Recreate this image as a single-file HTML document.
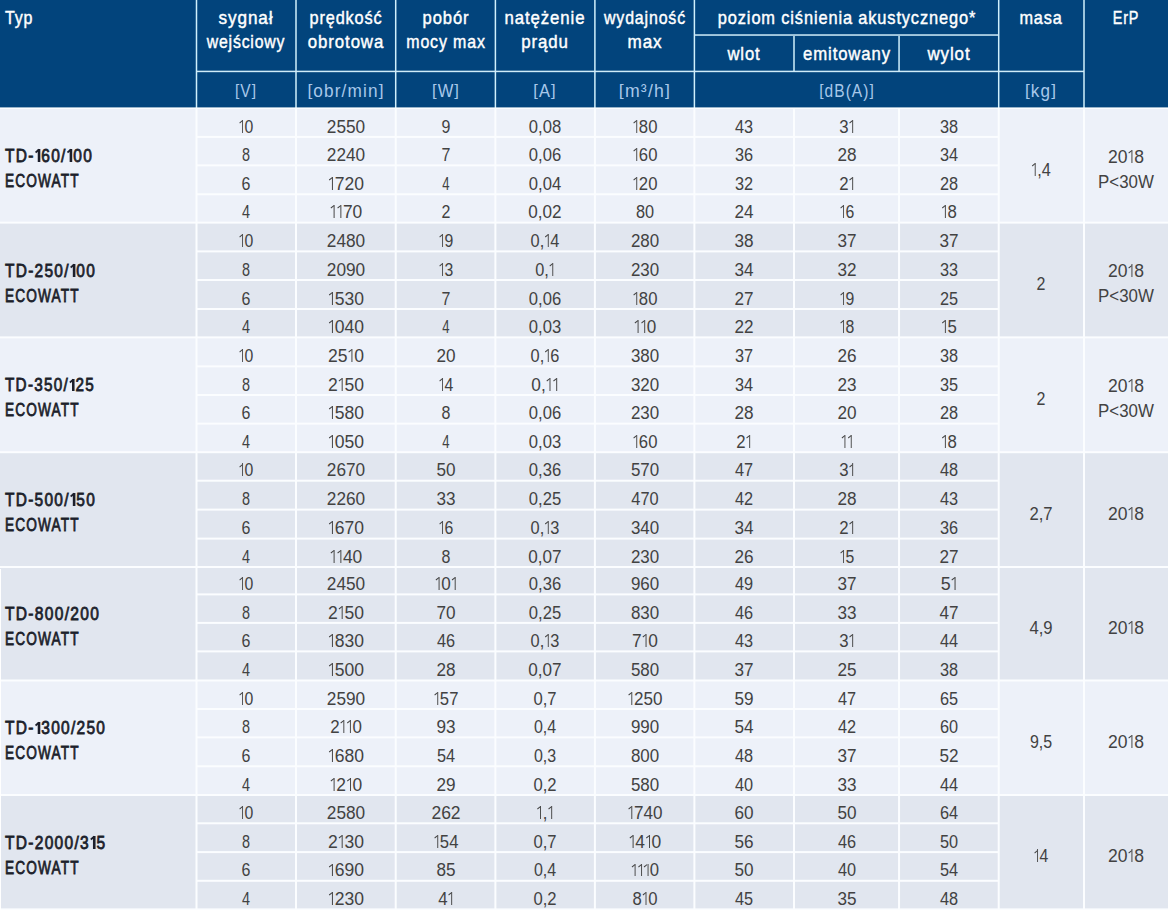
<!DOCTYPE html><html><head><meta charset="utf-8"><style>
html,body{margin:0;padding:0;width:1168px;height:910px;overflow:hidden;background:#fff;}
body{position:relative;font-family:"Liberation Sans",sans-serif;}
.r{position:absolute;}
.t{position:absolute;white-space:nowrap;line-height:1;}
.o{display:inline-block;position:relative;width:6.8px;height:13px;}
.o::before{content:"";position:absolute;right:1.4px;bottom:0;width:1.5px;height:12.9px;background:currentColor}
.o::after{content:"";position:absolute;right:2.6px;top:0.2px;width:4.4px;height:1.45px;background:currentColor;transform:rotate(-36deg);transform-origin:100% 0}
.b .o{width:7.6px}
.br{display:inline-block;transform:scaleY(0.89);transform-origin:50% 2.7px}
.b .o::before{width:2.4px;right:1.6px}
.b .o::after{right:3.6px;width:4.6px;height:2.2px}
</style></head><body>
<div class="r" style="left:0px;top:0.00px;width:1168px;height:108.00px;background:#02447c"></div>
<div class="r" style="left:0px;top:108.00px;width:1168px;height:802.00px;background:#edf1f9"></div>
<div class="r" style="left:0px;top:108.00px;width:1168px;height:802.00px;background:#edf1f9"></div>
<div class="r" style="left:0px;top:223.00px;width:1168px;height:687.00px;background:#e1e6ef"></div>
<div class="r" style="left:0px;top:337.00px;width:1168px;height:573.00px;background:#edf1f9"></div>
<div class="r" style="left:0px;top:452.00px;width:1168px;height:458.00px;background:#e1e6ef"></div>
<div class="r" style="left:0px;top:567.00px;width:1168px;height:343.00px;background:#e1e6ef"></div>
<div class="r" style="left:0px;top:680.00px;width:1168px;height:230.00px;background:#edf1f9"></div>
<div class="r" style="left:0px;top:795.00px;width:1168px;height:115.00px;background:#e1e6ef"></div>
<div class="r" style="left:195px;top:0.00px;width:1px;height:108.00px;background:rgba(208,240,252,0.250)"></div>
<div class="r" style="left:196px;top:0.00px;width:1px;height:108.00px;background:rgba(208,240,252,1.000)"></div>
<div class="r" style="left:197px;top:0.00px;width:1px;height:108.00px;background:rgba(208,240,252,0.250)"></div>
<div class="r" style="left:295px;top:0.00px;width:1px;height:108.00px;background:rgba(208,240,252,0.750)"></div>
<div class="r" style="left:296px;top:0.00px;width:1px;height:108.00px;background:rgba(208,240,252,0.750)"></div>
<div class="r" style="left:394px;top:0.00px;width:1px;height:108.00px;background:rgba(208,240,252,0.050)"></div>
<div class="r" style="left:395px;top:0.00px;width:1px;height:108.00px;background:rgba(208,240,252,1.000)"></div>
<div class="r" style="left:396px;top:0.00px;width:1px;height:108.00px;background:rgba(208,240,252,0.450)"></div>
<div class="r" style="left:494px;top:0.00px;width:1px;height:108.00px;background:rgba(208,240,252,0.350)"></div>
<div class="r" style="left:495px;top:0.00px;width:1px;height:108.00px;background:rgba(208,240,252,1.000)"></div>
<div class="r" style="left:496px;top:0.00px;width:1px;height:108.00px;background:rgba(208,240,252,0.150)"></div>
<div class="r" style="left:594px;top:0.00px;width:1px;height:108.00px;background:rgba(208,240,252,0.850)"></div>
<div class="r" style="left:595px;top:0.00px;width:1px;height:108.00px;background:rgba(208,240,252,0.650)"></div>
<div class="r" style="left:693px;top:0.00px;width:1px;height:108.00px;background:rgba(208,240,252,0.350)"></div>
<div class="r" style="left:694px;top:0.00px;width:1px;height:108.00px;background:rgba(208,240,252,1.000)"></div>
<div class="r" style="left:695px;top:0.00px;width:1px;height:108.00px;background:rgba(208,240,252,0.150)"></div>
<div class="r" style="left:997px;top:0.00px;width:1px;height:108.00px;background:rgba(208,240,252,0.050)"></div>
<div class="r" style="left:998px;top:0.00px;width:1px;height:108.00px;background:rgba(208,240,252,1.000)"></div>
<div class="r" style="left:999px;top:0.00px;width:1px;height:108.00px;background:rgba(208,240,252,0.450)"></div>
<div class="r" style="left:1083px;top:0.00px;width:1px;height:108.00px;background:rgba(208,240,252,0.750)"></div>
<div class="r" style="left:1084px;top:0.00px;width:1px;height:108.00px;background:rgba(208,240,252,0.750)"></div>
<div class="r" style="left:793px;top:36.00px;width:1px;height:35.00px;background:rgba(208,240,252,0.750)"></div>
<div class="r" style="left:794px;top:36.00px;width:1px;height:35.00px;background:rgba(208,240,252,0.750)"></div>
<div class="r" style="left:898px;top:36.00px;width:1px;height:35.00px;background:rgba(208,240,252,0.700)"></div>
<div class="r" style="left:899px;top:36.00px;width:1px;height:35.00px;background:rgba(208,240,252,0.800)"></div>
<div class="r" style="left:694px;top:34.00px;width:305px;height:1.00px;background:rgba(208,236,248,0.720)"></div>
<div class="r" style="left:694px;top:35.00px;width:305px;height:1.00px;background:rgba(208,236,248,0.780)"></div>
<div class="r" style="left:197px;top:70.00px;width:887px;height:1.00px;background:rgba(208,236,248,0.320)"></div>
<div class="r" style="left:197px;top:71.00px;width:887px;height:1.00px;background:rgba(208,236,248,1.000)"></div>
<div class="r" style="left:197px;top:72.00px;width:887px;height:1.00px;background:rgba(208,236,248,0.180)"></div>
<div class="r" style="left:195px;top:109.00px;width:1px;height:801.00px;background:rgba(251,253,255,0.500)"></div>
<div class="r" style="left:196px;top:109.00px;width:1px;height:801.00px;background:rgba(251,253,255,1.000)"></div>
<div class="r" style="left:197px;top:109.00px;width:1px;height:801.00px;background:rgba(251,253,255,0.500)"></div>
<div class="r" style="left:295px;top:109.00px;width:1px;height:801.00px;background:rgba(251,253,255,1.000)"></div>
<div class="r" style="left:296px;top:109.00px;width:1px;height:801.00px;background:rgba(251,253,255,1.000)"></div>
<div class="r" style="left:394px;top:109.00px;width:1px;height:801.00px;background:rgba(251,253,255,0.300)"></div>
<div class="r" style="left:395px;top:109.00px;width:1px;height:801.00px;background:rgba(251,253,255,1.000)"></div>
<div class="r" style="left:396px;top:109.00px;width:1px;height:801.00px;background:rgba(251,253,255,0.700)"></div>
<div class="r" style="left:494px;top:109.00px;width:1px;height:801.00px;background:rgba(251,253,255,0.600)"></div>
<div class="r" style="left:495px;top:109.00px;width:1px;height:801.00px;background:rgba(251,253,255,1.000)"></div>
<div class="r" style="left:496px;top:109.00px;width:1px;height:801.00px;background:rgba(251,253,255,0.400)"></div>
<div class="r" style="left:593px;top:109.00px;width:1px;height:801.00px;background:rgba(251,253,255,0.100)"></div>
<div class="r" style="left:594px;top:109.00px;width:1px;height:801.00px;background:rgba(251,253,255,1.000)"></div>
<div class="r" style="left:595px;top:109.00px;width:1px;height:801.00px;background:rgba(251,253,255,0.900)"></div>
<div class="r" style="left:693px;top:109.00px;width:1px;height:801.00px;background:rgba(251,253,255,0.600)"></div>
<div class="r" style="left:694px;top:109.00px;width:1px;height:801.00px;background:rgba(251,253,255,1.000)"></div>
<div class="r" style="left:695px;top:109.00px;width:1px;height:801.00px;background:rgba(251,253,255,0.400)"></div>
<div class="r" style="left:793px;top:109.00px;width:1px;height:801.00px;background:rgba(251,253,255,1.000)"></div>
<div class="r" style="left:794px;top:109.00px;width:1px;height:801.00px;background:rgba(251,253,255,1.000)"></div>
<div class="r" style="left:898px;top:109.00px;width:1px;height:801.00px;background:rgba(251,253,255,0.950)"></div>
<div class="r" style="left:899px;top:109.00px;width:1px;height:801.00px;background:rgba(251,253,255,1.000)"></div>
<div class="r" style="left:900px;top:109.00px;width:1px;height:801.00px;background:rgba(251,253,255,0.050)"></div>
<div class="r" style="left:997px;top:109.00px;width:1px;height:801.00px;background:rgba(251,253,255,0.300)"></div>
<div class="r" style="left:998px;top:109.00px;width:1px;height:801.00px;background:rgba(251,253,255,1.000)"></div>
<div class="r" style="left:999px;top:109.00px;width:1px;height:801.00px;background:rgba(251,253,255,0.700)"></div>
<div class="r" style="left:1083px;top:109.00px;width:1px;height:801.00px;background:rgba(251,253,255,1.000)"></div>
<div class="r" style="left:1084px;top:109.00px;width:1px;height:801.00px;background:rgba(251,253,255,1.000)"></div>
<div class="r" style="left:0px;top:107.00px;width:1168px;height:1.00px;background:rgba(251,253,255,0.600)"></div>
<div class="r" style="left:0px;top:108.00px;width:1168px;height:1.00px;background:rgba(251,253,255,1.000)"></div>
<div class="r" style="left:197px;top:135.00px;width:801px;height:1.00px;background:rgba(251,253,255,0.100)"></div>
<div class="r" style="left:197px;top:136.00px;width:801px;height:1.00px;background:rgba(251,253,255,1.000)"></div>
<div class="r" style="left:197px;top:137.00px;width:801px;height:1.00px;background:rgba(251,253,255,0.900)"></div>
<div class="r" style="left:197px;top:164.00px;width:801px;height:1.00px;background:rgba(251,253,255,0.600)"></div>
<div class="r" style="left:197px;top:165.00px;width:801px;height:1.00px;background:rgba(251,253,255,1.000)"></div>
<div class="r" style="left:197px;top:166.00px;width:801px;height:1.00px;background:rgba(251,253,255,0.400)"></div>
<div class="r" style="left:197px;top:193.00px;width:801px;height:1.00px;background:rgba(251,253,255,0.700)"></div>
<div class="r" style="left:197px;top:194.00px;width:801px;height:1.00px;background:rgba(251,253,255,1.000)"></div>
<div class="r" style="left:197px;top:195.00px;width:801px;height:1.00px;background:rgba(251,253,255,0.300)"></div>
<div class="r" style="left:0px;top:221.00px;width:1168px;height:1.00px;background:rgba(251,253,255,0.400)"></div>
<div class="r" style="left:0px;top:222.00px;width:1168px;height:1.00px;background:rgba(251,253,255,1.000)"></div>
<div class="r" style="left:0px;top:223.00px;width:1168px;height:1.00px;background:rgba(251,253,255,0.600)"></div>
<div class="r" style="left:197px;top:250.00px;width:801px;height:1.00px;background:rgba(251,253,255,0.600)"></div>
<div class="r" style="left:197px;top:251.00px;width:801px;height:1.00px;background:rgba(251,253,255,1.000)"></div>
<div class="r" style="left:197px;top:252.00px;width:801px;height:1.00px;background:rgba(251,253,255,0.400)"></div>
<div class="r" style="left:197px;top:279.00px;width:801px;height:1.00px;background:rgba(251,253,255,1.000)"></div>
<div class="r" style="left:197px;top:280.00px;width:801px;height:1.00px;background:rgba(251,253,255,1.000)"></div>
<div class="r" style="left:197px;top:308.00px;width:801px;height:1.00px;background:rgba(251,253,255,1.000)"></div>
<div class="r" style="left:197px;top:309.00px;width:801px;height:1.00px;background:rgba(251,253,255,1.000)"></div>
<div class="r" style="left:0px;top:336.00px;width:1168px;height:1.00px;background:rgba(251,253,255,0.600)"></div>
<div class="r" style="left:0px;top:337.00px;width:1168px;height:1.00px;background:rgba(251,253,255,1.000)"></div>
<div class="r" style="left:0px;top:338.00px;width:1168px;height:1.00px;background:rgba(251,253,255,0.400)"></div>
<div class="r" style="left:197px;top:365.00px;width:801px;height:1.00px;background:rgba(251,253,255,0.600)"></div>
<div class="r" style="left:197px;top:366.00px;width:801px;height:1.00px;background:rgba(251,253,255,1.000)"></div>
<div class="r" style="left:197px;top:367.00px;width:801px;height:1.00px;background:rgba(251,253,255,0.400)"></div>
<div class="r" style="left:197px;top:394.00px;width:801px;height:1.00px;background:rgba(251,253,255,1.000)"></div>
<div class="r" style="left:197px;top:395.00px;width:801px;height:1.00px;background:rgba(251,253,255,1.000)"></div>
<div class="r" style="left:197px;top:422.00px;width:801px;height:1.00px;background:rgba(251,253,255,0.400)"></div>
<div class="r" style="left:197px;top:423.00px;width:801px;height:1.00px;background:rgba(251,253,255,1.000)"></div>
<div class="r" style="left:197px;top:424.00px;width:801px;height:1.00px;background:rgba(251,253,255,0.600)"></div>
<div class="r" style="left:0px;top:451.00px;width:1168px;height:1.00px;background:rgba(251,253,255,0.800)"></div>
<div class="r" style="left:0px;top:452.00px;width:1168px;height:1.00px;background:rgba(251,253,255,1.000)"></div>
<div class="r" style="left:0px;top:453.00px;width:1168px;height:1.00px;background:rgba(251,253,255,0.200)"></div>
<div class="r" style="left:197px;top:479.00px;width:801px;height:1.00px;background:rgba(251,253,255,0.300)"></div>
<div class="r" style="left:197px;top:480.00px;width:801px;height:1.00px;background:rgba(251,253,255,1.000)"></div>
<div class="r" style="left:197px;top:481.00px;width:801px;height:1.00px;background:rgba(251,253,255,0.700)"></div>
<div class="r" style="left:197px;top:508.00px;width:801px;height:1.00px;background:rgba(251,253,255,0.400)"></div>
<div class="r" style="left:197px;top:509.00px;width:801px;height:1.00px;background:rgba(251,253,255,1.000)"></div>
<div class="r" style="left:197px;top:510.00px;width:801px;height:1.00px;background:rgba(251,253,255,0.600)"></div>
<div class="r" style="left:197px;top:537.00px;width:801px;height:1.00px;background:rgba(251,253,255,0.400)"></div>
<div class="r" style="left:197px;top:538.00px;width:801px;height:1.00px;background:rgba(251,253,255,1.000)"></div>
<div class="r" style="left:197px;top:539.00px;width:801px;height:1.00px;background:rgba(251,253,255,0.600)"></div>
<div class="r" style="left:0px;top:566.00px;width:1168px;height:1.00px;background:rgba(251,253,255,1.000)"></div>
<div class="r" style="left:0px;top:567.00px;width:1168px;height:1.00px;background:rgba(251,253,255,1.000)"></div>
<div class="r" style="left:197px;top:593.00px;width:801px;height:1.00px;background:rgba(251,253,255,0.600)"></div>
<div class="r" style="left:197px;top:594.00px;width:801px;height:1.00px;background:rgba(251,253,255,1.000)"></div>
<div class="r" style="left:197px;top:595.00px;width:801px;height:1.00px;background:rgba(251,253,255,0.400)"></div>
<div class="r" style="left:197px;top:621.00px;width:801px;height:1.00px;background:rgba(251,253,255,0.100)"></div>
<div class="r" style="left:197px;top:622.00px;width:801px;height:1.00px;background:rgba(251,253,255,1.000)"></div>
<div class="r" style="left:197px;top:623.00px;width:801px;height:1.00px;background:rgba(251,253,255,0.900)"></div>
<div class="r" style="left:197px;top:650.00px;width:801px;height:1.00px;background:rgba(251,253,255,0.600)"></div>
<div class="r" style="left:197px;top:651.00px;width:801px;height:1.00px;background:rgba(251,253,255,1.000)"></div>
<div class="r" style="left:197px;top:652.00px;width:801px;height:1.00px;background:rgba(251,253,255,0.400)"></div>
<div class="r" style="left:0px;top:679.00px;width:1168px;height:1.00px;background:rgba(251,253,255,0.500)"></div>
<div class="r" style="left:0px;top:680.00px;width:1168px;height:1.00px;background:rgba(251,253,255,1.000)"></div>
<div class="r" style="left:0px;top:681.00px;width:1168px;height:1.00px;background:rgba(251,253,255,0.500)"></div>
<div class="r" style="left:197px;top:708.00px;width:801px;height:1.00px;background:rgba(251,253,255,1.000)"></div>
<div class="r" style="left:197px;top:709.00px;width:801px;height:1.00px;background:rgba(251,253,255,1.000)"></div>
<div class="r" style="left:197px;top:736.00px;width:801px;height:1.00px;background:rgba(251,253,255,0.600)"></div>
<div class="r" style="left:197px;top:737.00px;width:801px;height:1.00px;background:rgba(251,253,255,1.000)"></div>
<div class="r" style="left:197px;top:738.00px;width:801px;height:1.00px;background:rgba(251,253,255,0.400)"></div>
<div class="r" style="left:197px;top:765.00px;width:801px;height:1.00px;background:rgba(251,253,255,0.700)"></div>
<div class="r" style="left:197px;top:766.00px;width:801px;height:1.00px;background:rgba(251,253,255,1.000)"></div>
<div class="r" style="left:197px;top:767.00px;width:801px;height:1.00px;background:rgba(251,253,255,0.300)"></div>
<div class="r" style="left:0px;top:794.00px;width:1168px;height:1.00px;background:rgba(251,253,255,1.000)"></div>
<div class="r" style="left:0px;top:795.00px;width:1168px;height:1.00px;background:rgba(251,253,255,1.000)"></div>
<div class="r" style="left:197px;top:822.00px;width:801px;height:1.00px;background:rgba(251,253,255,0.700)"></div>
<div class="r" style="left:197px;top:823.00px;width:801px;height:1.00px;background:rgba(251,253,255,1.000)"></div>
<div class="r" style="left:197px;top:824.00px;width:801px;height:1.00px;background:rgba(251,253,255,0.300)"></div>
<div class="r" style="left:197px;top:851.00px;width:801px;height:1.00px;background:rgba(251,253,255,0.900)"></div>
<div class="r" style="left:197px;top:852.00px;width:801px;height:1.00px;background:rgba(251,253,255,1.000)"></div>
<div class="r" style="left:197px;top:853.00px;width:801px;height:1.00px;background:rgba(251,253,255,0.100)"></div>
<div class="r" style="left:197px;top:879.00px;width:801px;height:1.00px;background:rgba(251,253,255,0.200)"></div>
<div class="r" style="left:197px;top:880.00px;width:801px;height:1.00px;background:rgba(251,253,255,1.000)"></div>
<div class="r" style="left:197px;top:881.00px;width:801px;height:1.00px;background:rgba(251,253,255,0.800)"></div>
<div class="r" style="left:0px;top:908.00px;width:1168px;height:1.00px;background:rgba(251,253,255,0.600)"></div>
<div class="r" style="left:0px;top:909.00px;width:1168px;height:1.00px;background:rgba(251,253,255,1.000)"></div>
<div class="r" style="left:0px;top:910.00px;width:1168px;height:1.00px;background:rgba(251,253,255,0.400)"></div>
<div class="r" style="left:0px;top:569.00px;width:1px;height:341.00px;background:#ffffff"></div>
<div class="t" style="left:4.60px;top:8.02px;font-size:19px;font-weight:400;-webkit-text-stroke:0.45px #ffffff;letter-spacing:1.0px;color:#ffffff;transform:scaleX(0.8424);transform-origin:0 0;">Typ</div>
<div class="t" style="left:246.25px;top:7.52px;font-size:19px;font-weight:400;-webkit-text-stroke:0.45px #ffffff;letter-spacing:1.0px;color:#ffffff;transform:translateX(-50%) scaleX(0.9033);transform-origin:50% 0;">sygnał</div>
<div class="t" style="left:246.25px;top:31.82px;font-size:19px;font-weight:400;-webkit-text-stroke:0.45px #ffffff;letter-spacing:1.0px;color:#ffffff;transform:translateX(-50%) scaleX(0.8323);transform-origin:50% 0;">wejściowy</div>
<div class="t" style="left:345.85px;top:7.52px;font-size:19px;font-weight:400;-webkit-text-stroke:0.45px #ffffff;letter-spacing:1.0px;color:#ffffff;transform:translateX(-50%) scaleX(0.8571);transform-origin:50% 0;">prędkość</div>
<div class="t" style="left:345.85px;top:31.82px;font-size:19px;font-weight:400;-webkit-text-stroke:0.45px #ffffff;letter-spacing:1.0px;color:#ffffff;transform:translateX(-50%) scaleX(0.8860);transform-origin:50% 0;">obrotowa</div>
<div class="t" style="left:445.55px;top:7.52px;font-size:19px;font-weight:400;-webkit-text-stroke:0.45px #ffffff;letter-spacing:1.0px;color:#ffffff;transform:translateX(-50%) scaleX(0.8736);transform-origin:50% 0;">pobór</div>
<div class="t" style="left:445.55px;top:31.82px;font-size:19px;font-weight:400;-webkit-text-stroke:0.45px #ffffff;letter-spacing:1.0px;color:#ffffff;transform:translateX(-50%) scaleX(0.8402);transform-origin:50% 0;">mocy max</div>
<div class="t" style="left:545.15px;top:7.52px;font-size:19px;font-weight:400;-webkit-text-stroke:0.45px #ffffff;letter-spacing:1.0px;color:#ffffff;transform:translateX(-50%) scaleX(0.8844);transform-origin:50% 0;">natężenie</div>
<div class="t" style="left:545.15px;top:31.82px;font-size:19px;font-weight:400;-webkit-text-stroke:0.45px #ffffff;letter-spacing:1.0px;color:#ffffff;transform:translateX(-50%) scaleX(0.8885);transform-origin:50% 0;">prądu</div>
<div class="t" style="left:644.65px;top:7.52px;font-size:19px;font-weight:400;-webkit-text-stroke:0.45px #ffffff;letter-spacing:1.0px;color:#ffffff;transform:translateX(-50%) scaleX(0.8392);transform-origin:50% 0;">wydajność</div>
<div class="t" style="left:644.65px;top:31.82px;font-size:19px;font-weight:400;-webkit-text-stroke:0.45px #ffffff;letter-spacing:1.0px;color:#ffffff;transform:translateX(-50%) scaleX(0.9000);transform-origin:50% 0;">max</div>
<div class="t" style="left:846.55px;top:7.82px;font-size:19px;font-weight:400;-webkit-text-stroke:0.45px #ffffff;letter-spacing:1.0px;color:#ffffff;transform:translateX(-50%) scaleX(0.8630);transform-origin:50% 0;">poziom ciśnienia akustycznego*</div>
<div class="t" style="left:744.20px;top:43.62px;font-size:19px;font-weight:400;-webkit-text-stroke:0.45px #ffffff;letter-spacing:1.0px;color:#ffffff;transform:translateX(-50%) scaleX(0.8769);transform-origin:50% 0;">wlot</div>
<div class="t" style="left:846.52px;top:43.62px;font-size:19px;font-weight:400;-webkit-text-stroke:0.45px #ffffff;letter-spacing:1.0px;color:#ffffff;transform:translateX(-50%) scaleX(0.8796);transform-origin:50% 0;">emitowany</div>
<div class="t" style="left:948.88px;top:43.62px;font-size:19px;font-weight:400;-webkit-text-stroke:0.45px #ffffff;letter-spacing:1.0px;color:#ffffff;transform:translateX(-50%) scaleX(0.8918);transform-origin:50% 0;">wylot</div>
<div class="t" style="left:1041.35px;top:7.52px;font-size:19px;font-weight:400;-webkit-text-stroke:0.45px #ffffff;letter-spacing:1.0px;color:#ffffff;transform:translateX(-50%) scaleX(0.8569);transform-origin:50% 0;">masa</div>
<div class="t" style="left:1126.00px;top:7.52px;font-size:19px;font-weight:400;-webkit-text-stroke:0.45px #ffffff;letter-spacing:1.0px;color:#ffffff;transform:translateX(-50%) scaleX(0.7576);transform-origin:50% 0;">ErP</div>
<div class="t" style="left:246.25px;top:81.56px;font-size:18px;font-weight:400;letter-spacing:1.2px;color:#a8c8ea;transform:translateX(-50%) scaleX(0.8609);transform-origin:50% 0;"><span class="br">[</span>V<span class="br">]</span></div>
<div class="t" style="left:345.85px;top:81.56px;font-size:18px;font-weight:400;letter-spacing:1.2px;color:#a8c8ea;transform:translateX(-50%) scaleX(0.9551);transform-origin:50% 0;"><span class="br">[</span>obr/min<span class="br">]</span></div>
<div class="t" style="left:445.55px;top:81.56px;font-size:18px;font-weight:400;letter-spacing:1.2px;color:#a8c8ea;transform:translateX(-50%) scaleX(0.9179);transform-origin:50% 0;"><span class="br">[</span>W<span class="br">]</span></div>
<div class="t" style="left:545.15px;top:81.56px;font-size:18px;font-weight:400;letter-spacing:1.2px;color:#a8c8ea;transform:translateX(-50%) scaleX(0.9130);transform-origin:50% 0;"><span class="br">[</span>A<span class="br">]</span></div>
<div class="t" style="left:644.65px;top:81.56px;font-size:18px;font-weight:400;letter-spacing:1.2px;color:#a8c8ea;transform:translateX(-50%) scaleX(0.9820);transform-origin:50% 0;"><span class="br">[</span>m³/h<span class="br">]</span></div>
<div class="t" style="left:1041.35px;top:81.56px;font-size:18px;font-weight:400;letter-spacing:1.2px;color:#a8c8ea;transform:translateX(-50%) scaleX(0.9484);transform-origin:50% 0;"><span class="br">[</span>kg<span class="br">]</span></div>
<div class="t" style="left:846.55px;top:81.56px;font-size:18px;font-weight:400;letter-spacing:1.2px;color:#a8c8ea;transform:translateX(-50%) scaleX(0.8613);transform-origin:50% 0;"><span class="br">[</span>dB(A)<span class="br">]</span></div>
<div class="t b" style="left:4.60px;top:147.06px;font-size:18px;font-weight:400;-webkit-text-stroke:0.8px #1c1f2b;letter-spacing:1.5px;color:#1c1f2b;transform:scaleX(0.8618);transform-origin:0 0;">TD-<i class="o"></i>60/<i class="o"></i>00</div>
<div class="t" style="left:4.90px;top:172.06px;font-size:18px;font-weight:400;-webkit-text-stroke:0.8px #1c1f2b;letter-spacing:1.5px;color:#1c1f2b;transform:scaleX(0.7602);transform-origin:0 0;">ECOWATT</div>
<div class="t" style="left:246.25px;top:117.56px;font-size:18px;font-weight:400;color:#424242;transform:translateX(-50%) scaleX(0.8765);transform-origin:50% 0;"><i class="o"></i>0</div>
<div class="t" style="left:345.85px;top:117.56px;font-size:18px;font-weight:400;color:#424242;transform:translateX(-50%) scaleX(0.9575);transform-origin:50% 0;">2550</div>
<div class="t" style="left:445.55px;top:117.56px;font-size:18px;font-weight:400;color:#424242;transform:translateX(-50%) scaleX(0.8889);transform-origin:50% 0;">9</div>
<div class="t" style="left:545.15px;top:117.56px;font-size:18px;font-weight:400;color:#424242;transform:translateX(-50%) scaleX(0.9229);transform-origin:50% 0;">0,08</div>
<div class="t" style="left:644.65px;top:117.56px;font-size:18px;font-weight:400;color:#424242;transform:translateX(-50%) scaleX(0.9259);transform-origin:50% 0;"><i class="o"></i>80</div>
<div class="t" style="left:744.20px;top:117.56px;font-size:18px;font-weight:400;color:#424242;transform:translateX(-50%) scaleX(0.9050);transform-origin:50% 0;">43</div>
<div class="t" style="left:846.52px;top:117.56px;font-size:18px;font-weight:400;color:#424242;transform:translateX(-50%) scaleX(0.9313);transform-origin:50% 0;">3<i class="o"></i></div>
<div class="t" style="left:948.88px;top:117.56px;font-size:18px;font-weight:400;color:#424242;transform:translateX(-50%) scaleX(0.9050);transform-origin:50% 0;">38</div>
<div class="t" style="left:246.25px;top:146.06px;font-size:18px;font-weight:400;color:#424242;transform:translateX(-50%) scaleX(0.8000);transform-origin:50% 0;">8</div>
<div class="t" style="left:345.85px;top:146.06px;font-size:18px;font-weight:400;color:#424242;transform:translateX(-50%) scaleX(0.9575);transform-origin:50% 0;">2240</div>
<div class="t" style="left:445.55px;top:146.06px;font-size:18px;font-weight:400;color:#424242;transform:translateX(-50%) scaleX(0.8889);transform-origin:50% 0;">7</div>
<div class="t" style="left:545.15px;top:146.06px;font-size:18px;font-weight:400;color:#424242;transform:translateX(-50%) scaleX(0.9229);transform-origin:50% 0;">0,06</div>
<div class="t" style="left:644.65px;top:146.06px;font-size:18px;font-weight:400;color:#424242;transform:translateX(-50%) scaleX(0.9259);transform-origin:50% 0;"><i class="o"></i>60</div>
<div class="t" style="left:744.20px;top:146.06px;font-size:18px;font-weight:400;color:#424242;transform:translateX(-50%) scaleX(0.9050);transform-origin:50% 0;">36</div>
<div class="t" style="left:846.52px;top:146.06px;font-size:18px;font-weight:400;color:#424242;transform:translateX(-50%) scaleX(0.9526);transform-origin:50% 0;">28</div>
<div class="t" style="left:948.88px;top:146.06px;font-size:18px;font-weight:400;color:#424242;transform:translateX(-50%) scaleX(0.9050);transform-origin:50% 0;">34</div>
<div class="t" style="left:246.25px;top:174.96px;font-size:18px;font-weight:400;color:#424242;transform:translateX(-50%) scaleX(0.8889);transform-origin:50% 0;">6</div>
<div class="t" style="left:345.85px;top:174.96px;font-size:18px;font-weight:400;color:#424242;transform:translateX(-50%) scaleX(0.9750);transform-origin:50% 0;"><i class="o"></i>720</div>
<div class="t" style="left:445.55px;top:174.96px;font-size:18px;font-weight:400;color:#424242;transform:translateX(-50%) scaleX(0.7273);transform-origin:50% 0;">4</div>
<div class="t" style="left:545.15px;top:174.96px;font-size:18px;font-weight:400;color:#424242;transform:translateX(-50%) scaleX(0.9229);transform-origin:50% 0;">0,04</div>
<div class="t" style="left:644.65px;top:174.96px;font-size:18px;font-weight:400;color:#424242;transform:translateX(-50%) scaleX(0.9259);transform-origin:50% 0;"><i class="o"></i>20</div>
<div class="t" style="left:744.20px;top:174.96px;font-size:18px;font-weight:400;color:#424242;transform:translateX(-50%) scaleX(0.9050);transform-origin:50% 0;">32</div>
<div class="t" style="left:846.52px;top:174.96px;font-size:18px;font-weight:400;color:#424242;transform:translateX(-50%) scaleX(0.9313);transform-origin:50% 0;">2<i class="o"></i></div>
<div class="t" style="left:948.88px;top:174.96px;font-size:18px;font-weight:400;color:#424242;transform:translateX(-50%) scaleX(0.9050);transform-origin:50% 0;">28</div>
<div class="t" style="left:246.25px;top:203.26px;font-size:18px;font-weight:400;color:#424242;transform:translateX(-50%) scaleX(0.8000);transform-origin:50% 0;">4</div>
<div class="t" style="left:345.85px;top:203.26px;font-size:18px;font-weight:400;color:#424242;transform:translateX(-50%) scaleX(0.9667);transform-origin:50% 0;"><i class="o"></i><i class="o"></i>70</div>
<div class="t" style="left:445.55px;top:203.26px;font-size:18px;font-weight:400;color:#424242;transform:translateX(-50%) scaleX(0.8889);transform-origin:50% 0;">2</div>
<div class="t" style="left:545.15px;top:203.26px;font-size:18px;font-weight:400;color:#424242;transform:translateX(-50%) scaleX(0.9500);transform-origin:50% 0;">0,02</div>
<div class="t" style="left:644.65px;top:203.26px;font-size:18px;font-weight:400;color:#424242;transform:translateX(-50%) scaleX(0.9050);transform-origin:50% 0;">80</div>
<div class="t" style="left:744.20px;top:203.26px;font-size:18px;font-weight:400;color:#424242;transform:translateX(-50%) scaleX(0.9526);transform-origin:50% 0;">24</div>
<div class="t" style="left:846.52px;top:203.26px;font-size:18px;font-weight:400;color:#424242;transform:translateX(-50%) scaleX(0.8765);transform-origin:50% 0;"><i class="o"></i>6</div>
<div class="t" style="left:948.88px;top:203.26px;font-size:18px;font-weight:400;color:#424242;transform:translateX(-50%) scaleX(0.9313);transform-origin:50% 0;"><i class="o"></i>8</div>
<div class="t" style="left:1041.35px;top:160.56px;font-size:18px;font-weight:400;color:#424242;transform:translateX(-50%) scaleX(0.9048);transform-origin:50% 0;"><i class="o"></i>,4</div>
<div class="t" style="left:1126.00px;top:147.76px;font-size:18px;font-weight:400;color:#424242;transform:translateX(-50%) scaleX(0.9750);transform-origin:50% 0;">20<i class="o"></i>8</div>
<div class="t" style="left:1126.00px;top:172.56px;font-size:18px;font-weight:400;color:#424242;transform:translateX(-50%) scaleX(0.9373);transform-origin:50% 0;">P&lt;30W</div>
<div class="t b" style="left:4.60px;top:261.66px;font-size:18px;font-weight:400;-webkit-text-stroke:0.8px #1c1f2b;letter-spacing:1.5px;color:#1c1f2b;transform:scaleX(0.8585);transform-origin:0 0;">TD-250/<i class="o"></i>00</div>
<div class="t" style="left:4.90px;top:286.66px;font-size:18px;font-weight:400;-webkit-text-stroke:0.8px #1c1f2b;letter-spacing:1.5px;color:#1c1f2b;transform:scaleX(0.7602);transform-origin:0 0;">ECOWATT</div>
<div class="t" style="left:246.25px;top:232.06px;font-size:18px;font-weight:400;color:#424242;transform:translateX(-50%) scaleX(0.8765);transform-origin:50% 0;"><i class="o"></i>0</div>
<div class="t" style="left:345.85px;top:232.06px;font-size:18px;font-weight:400;color:#424242;transform:translateX(-50%) scaleX(0.9575);transform-origin:50% 0;">2480</div>
<div class="t" style="left:445.55px;top:232.06px;font-size:18px;font-weight:400;color:#424242;transform:translateX(-50%) scaleX(0.8765);transform-origin:50% 0;"><i class="o"></i>9</div>
<div class="t" style="left:545.15px;top:232.06px;font-size:18px;font-weight:400;color:#424242;transform:translateX(-50%) scaleX(0.9094);transform-origin:50% 0;">0,<i class="o"></i>4</div>
<div class="t" style="left:644.65px;top:232.06px;font-size:18px;font-weight:400;color:#424242;transform:translateX(-50%) scaleX(0.9400);transform-origin:50% 0;">280</div>
<div class="t" style="left:744.20px;top:232.06px;font-size:18px;font-weight:400;color:#424242;transform:translateX(-50%) scaleX(0.9526);transform-origin:50% 0;">38</div>
<div class="t" style="left:846.52px;top:232.06px;font-size:18px;font-weight:400;color:#424242;transform:translateX(-50%) scaleX(0.9526);transform-origin:50% 0;">37</div>
<div class="t" style="left:948.88px;top:232.06px;font-size:18px;font-weight:400;color:#424242;transform:translateX(-50%) scaleX(0.9526);transform-origin:50% 0;">37</div>
<div class="t" style="left:246.25px;top:260.66px;font-size:18px;font-weight:400;color:#424242;transform:translateX(-50%) scaleX(0.8000);transform-origin:50% 0;">8</div>
<div class="t" style="left:345.85px;top:260.66px;font-size:18px;font-weight:400;color:#424242;transform:translateX(-50%) scaleX(0.9575);transform-origin:50% 0;">2090</div>
<div class="t" style="left:445.55px;top:260.66px;font-size:18px;font-weight:400;color:#424242;transform:translateX(-50%) scaleX(0.8765);transform-origin:50% 0;"><i class="o"></i>3</div>
<div class="t" style="left:545.15px;top:260.66px;font-size:18px;font-weight:400;color:#424242;transform:translateX(-50%) scaleX(0.9048);transform-origin:50% 0;">0,<i class="o"></i></div>
<div class="t" style="left:644.65px;top:260.66px;font-size:18px;font-weight:400;color:#424242;transform:translateX(-50%) scaleX(0.9400);transform-origin:50% 0;">230</div>
<div class="t" style="left:744.20px;top:260.66px;font-size:18px;font-weight:400;color:#424242;transform:translateX(-50%) scaleX(0.9526);transform-origin:50% 0;">34</div>
<div class="t" style="left:846.52px;top:260.66px;font-size:18px;font-weight:400;color:#424242;transform:translateX(-50%) scaleX(0.9526);transform-origin:50% 0;">32</div>
<div class="t" style="left:948.88px;top:260.66px;font-size:18px;font-weight:400;color:#424242;transform:translateX(-50%) scaleX(0.9050);transform-origin:50% 0;">33</div>
<div class="t" style="left:246.25px;top:289.66px;font-size:18px;font-weight:400;color:#424242;transform:translateX(-50%) scaleX(0.8889);transform-origin:50% 0;">6</div>
<div class="t" style="left:345.85px;top:289.66px;font-size:18px;font-weight:400;color:#424242;transform:translateX(-50%) scaleX(0.9750);transform-origin:50% 0;"><i class="o"></i>530</div>
<div class="t" style="left:445.55px;top:289.66px;font-size:18px;font-weight:400;color:#424242;transform:translateX(-50%) scaleX(0.8889);transform-origin:50% 0;">7</div>
<div class="t" style="left:545.15px;top:289.66px;font-size:18px;font-weight:400;color:#424242;transform:translateX(-50%) scaleX(0.9229);transform-origin:50% 0;">0,06</div>
<div class="t" style="left:644.65px;top:289.66px;font-size:18px;font-weight:400;color:#424242;transform:translateX(-50%) scaleX(0.9259);transform-origin:50% 0;"><i class="o"></i>80</div>
<div class="t" style="left:744.20px;top:289.66px;font-size:18px;font-weight:400;color:#424242;transform:translateX(-50%) scaleX(0.9526);transform-origin:50% 0;">27</div>
<div class="t" style="left:846.52px;top:289.66px;font-size:18px;font-weight:400;color:#424242;transform:translateX(-50%) scaleX(0.8765);transform-origin:50% 0;"><i class="o"></i>9</div>
<div class="t" style="left:948.88px;top:289.66px;font-size:18px;font-weight:400;color:#424242;transform:translateX(-50%) scaleX(0.9050);transform-origin:50% 0;">25</div>
<div class="t" style="left:246.25px;top:318.06px;font-size:18px;font-weight:400;color:#424242;transform:translateX(-50%) scaleX(0.8000);transform-origin:50% 0;">4</div>
<div class="t" style="left:345.85px;top:318.06px;font-size:18px;font-weight:400;color:#424242;transform:translateX(-50%) scaleX(0.9750);transform-origin:50% 0;"><i class="o"></i>040</div>
<div class="t" style="left:445.55px;top:318.06px;font-size:18px;font-weight:400;color:#424242;transform:translateX(-50%) scaleX(0.7273);transform-origin:50% 0;">4</div>
<div class="t" style="left:545.15px;top:318.06px;font-size:18px;font-weight:400;color:#424242;transform:translateX(-50%) scaleX(0.9229);transform-origin:50% 0;">0,03</div>
<div class="t" style="left:644.65px;top:318.06px;font-size:18px;font-weight:400;color:#424242;transform:translateX(-50%) scaleX(0.9478);transform-origin:50% 0;"><i class="o"></i><i class="o"></i>0</div>
<div class="t" style="left:744.20px;top:318.06px;font-size:18px;font-weight:400;color:#424242;transform:translateX(-50%) scaleX(0.9526);transform-origin:50% 0;">22</div>
<div class="t" style="left:846.52px;top:318.06px;font-size:18px;font-weight:400;color:#424242;transform:translateX(-50%) scaleX(0.8765);transform-origin:50% 0;"><i class="o"></i>8</div>
<div class="t" style="left:948.88px;top:318.06px;font-size:18px;font-weight:400;color:#424242;transform:translateX(-50%) scaleX(0.9313);transform-origin:50% 0;"><i class="o"></i>5</div>
<div class="t" style="left:1041.35px;top:275.16px;font-size:18px;font-weight:400;color:#424242;transform:translateX(-50%) scaleX(0.8889);transform-origin:50% 0;">2</div>
<div class="t" style="left:1126.00px;top:262.36px;font-size:18px;font-weight:400;color:#424242;transform:translateX(-50%) scaleX(0.9750);transform-origin:50% 0;">20<i class="o"></i>8</div>
<div class="t" style="left:1126.00px;top:287.16px;font-size:18px;font-weight:400;color:#424242;transform:translateX(-50%) scaleX(0.9373);transform-origin:50% 0;">P&lt;30W</div>
<div class="t b" style="left:4.60px;top:376.46px;font-size:18px;font-weight:400;-webkit-text-stroke:0.8px #1c1f2b;letter-spacing:1.5px;color:#1c1f2b;transform:scaleX(0.8481);transform-origin:0 0;">TD-350/<i class="o"></i>25</div>
<div class="t" style="left:4.90px;top:401.46px;font-size:18px;font-weight:400;-webkit-text-stroke:0.8px #1c1f2b;letter-spacing:1.5px;color:#1c1f2b;transform:scaleX(0.7602);transform-origin:0 0;">ECOWATT</div>
<div class="t" style="left:246.25px;top:347.06px;font-size:18px;font-weight:400;color:#424242;transform:translateX(-50%) scaleX(0.8765);transform-origin:50% 0;"><i class="o"></i>0</div>
<div class="t" style="left:345.85px;top:347.06px;font-size:18px;font-weight:400;color:#424242;transform:translateX(-50%) scaleX(0.9750);transform-origin:50% 0;">25<i class="o"></i>0</div>
<div class="t" style="left:445.55px;top:347.06px;font-size:18px;font-weight:400;color:#424242;transform:translateX(-50%) scaleX(0.9526);transform-origin:50% 0;">20</div>
<div class="t" style="left:545.15px;top:347.06px;font-size:18px;font-weight:400;color:#424242;transform:translateX(-50%) scaleX(0.9094);transform-origin:50% 0;">0,<i class="o"></i>6</div>
<div class="t" style="left:644.65px;top:347.06px;font-size:18px;font-weight:400;color:#424242;transform:translateX(-50%) scaleX(0.9400);transform-origin:50% 0;">380</div>
<div class="t" style="left:744.20px;top:347.06px;font-size:18px;font-weight:400;color:#424242;transform:translateX(-50%) scaleX(0.9050);transform-origin:50% 0;">37</div>
<div class="t" style="left:846.52px;top:347.06px;font-size:18px;font-weight:400;color:#424242;transform:translateX(-50%) scaleX(0.9526);transform-origin:50% 0;">26</div>
<div class="t" style="left:948.88px;top:347.06px;font-size:18px;font-weight:400;color:#424242;transform:translateX(-50%) scaleX(0.9050);transform-origin:50% 0;">38</div>
<div class="t" style="left:246.25px;top:375.66px;font-size:18px;font-weight:400;color:#424242;transform:translateX(-50%) scaleX(0.8000);transform-origin:50% 0;">8</div>
<div class="t" style="left:345.85px;top:375.66px;font-size:18px;font-weight:400;color:#424242;transform:translateX(-50%) scaleX(0.9750);transform-origin:50% 0;">2<i class="o"></i>50</div>
<div class="t" style="left:445.55px;top:375.66px;font-size:18px;font-weight:400;color:#424242;transform:translateX(-50%) scaleX(0.8765);transform-origin:50% 0;"><i class="o"></i>4</div>
<div class="t" style="left:545.15px;top:375.66px;font-size:18px;font-weight:400;color:#424242;transform:translateX(-50%) scaleX(0.9593);transform-origin:50% 0;">0,<i class="o"></i><i class="o"></i></div>
<div class="t" style="left:644.65px;top:375.66px;font-size:18px;font-weight:400;color:#424242;transform:translateX(-50%) scaleX(0.9400);transform-origin:50% 0;">320</div>
<div class="t" style="left:744.20px;top:375.66px;font-size:18px;font-weight:400;color:#424242;transform:translateX(-50%) scaleX(0.9050);transform-origin:50% 0;">34</div>
<div class="t" style="left:846.52px;top:375.66px;font-size:18px;font-weight:400;color:#424242;transform:translateX(-50%) scaleX(0.9526);transform-origin:50% 0;">23</div>
<div class="t" style="left:948.88px;top:375.66px;font-size:18px;font-weight:400;color:#424242;transform:translateX(-50%) scaleX(0.9050);transform-origin:50% 0;">35</div>
<div class="t" style="left:246.25px;top:404.26px;font-size:18px;font-weight:400;color:#424242;transform:translateX(-50%) scaleX(0.8889);transform-origin:50% 0;">6</div>
<div class="t" style="left:345.85px;top:404.26px;font-size:18px;font-weight:400;color:#424242;transform:translateX(-50%) scaleX(0.9750);transform-origin:50% 0;"><i class="o"></i>580</div>
<div class="t" style="left:445.55px;top:404.26px;font-size:18px;font-weight:400;color:#424242;transform:translateX(-50%) scaleX(0.8889);transform-origin:50% 0;">8</div>
<div class="t" style="left:545.15px;top:404.26px;font-size:18px;font-weight:400;color:#424242;transform:translateX(-50%) scaleX(0.9229);transform-origin:50% 0;">0,06</div>
<div class="t" style="left:644.65px;top:404.26px;font-size:18px;font-weight:400;color:#424242;transform:translateX(-50%) scaleX(0.9400);transform-origin:50% 0;">230</div>
<div class="t" style="left:744.20px;top:404.26px;font-size:18px;font-weight:400;color:#424242;transform:translateX(-50%) scaleX(0.9526);transform-origin:50% 0;">28</div>
<div class="t" style="left:846.52px;top:404.26px;font-size:18px;font-weight:400;color:#424242;transform:translateX(-50%) scaleX(0.9526);transform-origin:50% 0;">20</div>
<div class="t" style="left:948.88px;top:404.26px;font-size:18px;font-weight:400;color:#424242;transform:translateX(-50%) scaleX(0.9050);transform-origin:50% 0;">28</div>
<div class="t" style="left:246.25px;top:432.86px;font-size:18px;font-weight:400;color:#424242;transform:translateX(-50%) scaleX(0.8000);transform-origin:50% 0;">4</div>
<div class="t" style="left:345.85px;top:432.86px;font-size:18px;font-weight:400;color:#424242;transform:translateX(-50%) scaleX(0.9750);transform-origin:50% 0;"><i class="o"></i>050</div>
<div class="t" style="left:445.55px;top:432.86px;font-size:18px;font-weight:400;color:#424242;transform:translateX(-50%) scaleX(0.7273);transform-origin:50% 0;">4</div>
<div class="t" style="left:545.15px;top:432.86px;font-size:18px;font-weight:400;color:#424242;transform:translateX(-50%) scaleX(0.9229);transform-origin:50% 0;">0,03</div>
<div class="t" style="left:644.65px;top:432.86px;font-size:18px;font-weight:400;color:#424242;transform:translateX(-50%) scaleX(0.9259);transform-origin:50% 0;"><i class="o"></i>60</div>
<div class="t" style="left:744.20px;top:432.86px;font-size:18px;font-weight:400;color:#424242;transform:translateX(-50%) scaleX(0.9313);transform-origin:50% 0;">2<i class="o"></i></div>
<div class="t" style="left:846.52px;top:432.86px;font-size:18px;font-weight:400;color:#424242;transform:translateX(-50%) scaleX(0.9000);transform-origin:50% 0;"><i class="o"></i><i class="o"></i></div>
<div class="t" style="left:948.88px;top:432.86px;font-size:18px;font-weight:400;color:#424242;transform:translateX(-50%) scaleX(0.9313);transform-origin:50% 0;"><i class="o"></i>8</div>
<div class="t" style="left:1041.35px;top:389.96px;font-size:18px;font-weight:400;color:#424242;transform:translateX(-50%) scaleX(0.8889);transform-origin:50% 0;">2</div>
<div class="t" style="left:1126.00px;top:377.16px;font-size:18px;font-weight:400;color:#424242;transform:translateX(-50%) scaleX(0.9750);transform-origin:50% 0;">20<i class="o"></i>8</div>
<div class="t" style="left:1126.00px;top:401.96px;font-size:18px;font-weight:400;color:#424242;transform:translateX(-50%) scaleX(0.9373);transform-origin:50% 0;">P&lt;30W</div>
<div class="t b" style="left:4.60px;top:491.26px;font-size:18px;font-weight:400;-webkit-text-stroke:0.8px #1c1f2b;letter-spacing:1.5px;color:#1c1f2b;transform:scaleX(0.8585);transform-origin:0 0;">TD-500/<i class="o"></i>50</div>
<div class="t" style="left:4.90px;top:516.26px;font-size:18px;font-weight:400;-webkit-text-stroke:0.8px #1c1f2b;letter-spacing:1.5px;color:#1c1f2b;transform:scaleX(0.7602);transform-origin:0 0;">ECOWATT</div>
<div class="t" style="left:246.25px;top:461.36px;font-size:18px;font-weight:400;color:#424242;transform:translateX(-50%) scaleX(0.8765);transform-origin:50% 0;"><i class="o"></i>0</div>
<div class="t" style="left:345.85px;top:461.36px;font-size:18px;font-weight:400;color:#424242;transform:translateX(-50%) scaleX(0.9575);transform-origin:50% 0;">2670</div>
<div class="t" style="left:445.55px;top:461.36px;font-size:18px;font-weight:400;color:#424242;transform:translateX(-50%) scaleX(0.9526);transform-origin:50% 0;">50</div>
<div class="t" style="left:545.15px;top:461.36px;font-size:18px;font-weight:400;color:#424242;transform:translateX(-50%) scaleX(0.9229);transform-origin:50% 0;">0,36</div>
<div class="t" style="left:644.65px;top:461.36px;font-size:18px;font-weight:400;color:#424242;transform:translateX(-50%) scaleX(0.9400);transform-origin:50% 0;">570</div>
<div class="t" style="left:744.20px;top:461.36px;font-size:18px;font-weight:400;color:#424242;transform:translateX(-50%) scaleX(0.9050);transform-origin:50% 0;">47</div>
<div class="t" style="left:846.52px;top:461.36px;font-size:18px;font-weight:400;color:#424242;transform:translateX(-50%) scaleX(0.9313);transform-origin:50% 0;">3<i class="o"></i></div>
<div class="t" style="left:948.88px;top:461.36px;font-size:18px;font-weight:400;color:#424242;transform:translateX(-50%) scaleX(0.9050);transform-origin:50% 0;">48</div>
<div class="t" style="left:246.25px;top:490.26px;font-size:18px;font-weight:400;color:#424242;transform:translateX(-50%) scaleX(0.8000);transform-origin:50% 0;">8</div>
<div class="t" style="left:345.85px;top:490.26px;font-size:18px;font-weight:400;color:#424242;transform:translateX(-50%) scaleX(0.9575);transform-origin:50% 0;">2260</div>
<div class="t" style="left:445.55px;top:490.26px;font-size:18px;font-weight:400;color:#424242;transform:translateX(-50%) scaleX(0.9526);transform-origin:50% 0;">33</div>
<div class="t" style="left:545.15px;top:490.26px;font-size:18px;font-weight:400;color:#424242;transform:translateX(-50%) scaleX(0.9229);transform-origin:50% 0;">0,25</div>
<div class="t" style="left:644.65px;top:490.26px;font-size:18px;font-weight:400;color:#424242;transform:translateX(-50%) scaleX(0.9097);transform-origin:50% 0;">470</div>
<div class="t" style="left:744.20px;top:490.26px;font-size:18px;font-weight:400;color:#424242;transform:translateX(-50%) scaleX(0.9050);transform-origin:50% 0;">42</div>
<div class="t" style="left:846.52px;top:490.26px;font-size:18px;font-weight:400;color:#424242;transform:translateX(-50%) scaleX(0.9526);transform-origin:50% 0;">28</div>
<div class="t" style="left:948.88px;top:490.26px;font-size:18px;font-weight:400;color:#424242;transform:translateX(-50%) scaleX(0.9050);transform-origin:50% 0;">43</div>
<div class="t" style="left:246.25px;top:519.26px;font-size:18px;font-weight:400;color:#424242;transform:translateX(-50%) scaleX(0.8889);transform-origin:50% 0;">6</div>
<div class="t" style="left:345.85px;top:519.26px;font-size:18px;font-weight:400;color:#424242;transform:translateX(-50%) scaleX(0.9750);transform-origin:50% 0;"><i class="o"></i>670</div>
<div class="t" style="left:445.55px;top:519.26px;font-size:18px;font-weight:400;color:#424242;transform:translateX(-50%) scaleX(0.8765);transform-origin:50% 0;"><i class="o"></i>6</div>
<div class="t" style="left:545.15px;top:519.26px;font-size:18px;font-weight:400;color:#424242;transform:translateX(-50%) scaleX(0.9094);transform-origin:50% 0;">0,<i class="o"></i>3</div>
<div class="t" style="left:644.65px;top:519.26px;font-size:18px;font-weight:400;color:#424242;transform:translateX(-50%) scaleX(0.9400);transform-origin:50% 0;">340</div>
<div class="t" style="left:744.20px;top:519.26px;font-size:18px;font-weight:400;color:#424242;transform:translateX(-50%) scaleX(0.9526);transform-origin:50% 0;">34</div>
<div class="t" style="left:846.52px;top:519.26px;font-size:18px;font-weight:400;color:#424242;transform:translateX(-50%) scaleX(0.9313);transform-origin:50% 0;">2<i class="o"></i></div>
<div class="t" style="left:948.88px;top:519.26px;font-size:18px;font-weight:400;color:#424242;transform:translateX(-50%) scaleX(0.9050);transform-origin:50% 0;">36</div>
<div class="t" style="left:246.25px;top:547.66px;font-size:18px;font-weight:400;color:#424242;transform:translateX(-50%) scaleX(0.8000);transform-origin:50% 0;">4</div>
<div class="t" style="left:345.85px;top:547.66px;font-size:18px;font-weight:400;color:#424242;transform:translateX(-50%) scaleX(0.9667);transform-origin:50% 0;"><i class="o"></i><i class="o"></i>40</div>
<div class="t" style="left:445.55px;top:547.66px;font-size:18px;font-weight:400;color:#424242;transform:translateX(-50%) scaleX(0.8889);transform-origin:50% 0;">8</div>
<div class="t" style="left:545.15px;top:547.66px;font-size:18px;font-weight:400;color:#424242;transform:translateX(-50%) scaleX(0.9500);transform-origin:50% 0;">0,07</div>
<div class="t" style="left:644.65px;top:547.66px;font-size:18px;font-weight:400;color:#424242;transform:translateX(-50%) scaleX(0.9400);transform-origin:50% 0;">230</div>
<div class="t" style="left:744.20px;top:547.66px;font-size:18px;font-weight:400;color:#424242;transform:translateX(-50%) scaleX(0.9526);transform-origin:50% 0;">26</div>
<div class="t" style="left:846.52px;top:547.66px;font-size:18px;font-weight:400;color:#424242;transform:translateX(-50%) scaleX(0.8765);transform-origin:50% 0;"><i class="o"></i>5</div>
<div class="t" style="left:948.88px;top:547.66px;font-size:18px;font-weight:400;color:#424242;transform:translateX(-50%) scaleX(0.9526);transform-origin:50% 0;">27</div>
<div class="t" style="left:1041.35px;top:504.76px;font-size:18px;font-weight:400;color:#424242;transform:translateX(-50%) scaleX(0.9250);transform-origin:50% 0;">2,7</div>
<div class="t" style="left:1126.00px;top:504.76px;font-size:18px;font-weight:400;color:#424242;transform:translateX(-50%) scaleX(0.9750);transform-origin:50% 0;">20<i class="o"></i>8</div>
<div class="t b" style="left:4.60px;top:605.41px;font-size:18px;font-weight:400;-webkit-text-stroke:0.8px #1c1f2b;letter-spacing:1.5px;color:#1c1f2b;transform:scaleX(0.8645);transform-origin:0 0;">TD-800/200</div>
<div class="t" style="left:4.90px;top:630.41px;font-size:18px;font-weight:400;-webkit-text-stroke:0.8px #1c1f2b;letter-spacing:1.5px;color:#1c1f2b;transform:scaleX(0.7602);transform-origin:0 0;">ECOWATT</div>
<div class="t" style="left:246.25px;top:575.06px;font-size:18px;font-weight:400;color:#424242;transform:translateX(-50%) scaleX(0.8765);transform-origin:50% 0;"><i class="o"></i>0</div>
<div class="t" style="left:345.85px;top:575.06px;font-size:18px;font-weight:400;color:#424242;transform:translateX(-50%) scaleX(0.9575);transform-origin:50% 0;">2450</div>
<div class="t" style="left:445.55px;top:575.06px;font-size:18px;font-weight:400;color:#424242;transform:translateX(-50%) scaleX(0.9478);transform-origin:50% 0;"><i class="o"></i>0<i class="o"></i></div>
<div class="t" style="left:545.15px;top:575.06px;font-size:18px;font-weight:400;color:#424242;transform:translateX(-50%) scaleX(0.9229);transform-origin:50% 0;">0,36</div>
<div class="t" style="left:644.65px;top:575.06px;font-size:18px;font-weight:400;color:#424242;transform:translateX(-50%) scaleX(0.9400);transform-origin:50% 0;">960</div>
<div class="t" style="left:744.20px;top:575.06px;font-size:18px;font-weight:400;color:#424242;transform:translateX(-50%) scaleX(0.9050);transform-origin:50% 0;">49</div>
<div class="t" style="left:846.52px;top:575.06px;font-size:18px;font-weight:400;color:#424242;transform:translateX(-50%) scaleX(0.9526);transform-origin:50% 0;">37</div>
<div class="t" style="left:948.88px;top:575.06px;font-size:18px;font-weight:400;color:#424242;transform:translateX(-50%) scaleX(0.9933);transform-origin:50% 0;">5<i class="o"></i></div>
<div class="t" style="left:246.25px;top:603.56px;font-size:18px;font-weight:400;color:#424242;transform:translateX(-50%) scaleX(0.8000);transform-origin:50% 0;">8</div>
<div class="t" style="left:345.85px;top:603.56px;font-size:18px;font-weight:400;color:#424242;transform:translateX(-50%) scaleX(0.9750);transform-origin:50% 0;">2<i class="o"></i>50</div>
<div class="t" style="left:445.55px;top:603.56px;font-size:18px;font-weight:400;color:#424242;transform:translateX(-50%) scaleX(0.9526);transform-origin:50% 0;">70</div>
<div class="t" style="left:545.15px;top:603.56px;font-size:18px;font-weight:400;color:#424242;transform:translateX(-50%) scaleX(0.9229);transform-origin:50% 0;">0,25</div>
<div class="t" style="left:644.65px;top:603.56px;font-size:18px;font-weight:400;color:#424242;transform:translateX(-50%) scaleX(0.9400);transform-origin:50% 0;">830</div>
<div class="t" style="left:744.20px;top:603.56px;font-size:18px;font-weight:400;color:#424242;transform:translateX(-50%) scaleX(0.9050);transform-origin:50% 0;">46</div>
<div class="t" style="left:846.52px;top:603.56px;font-size:18px;font-weight:400;color:#424242;transform:translateX(-50%) scaleX(0.9526);transform-origin:50% 0;">33</div>
<div class="t" style="left:948.88px;top:603.56px;font-size:18px;font-weight:400;color:#424242;transform:translateX(-50%) scaleX(0.9526);transform-origin:50% 0;">47</div>
<div class="t" style="left:246.25px;top:632.06px;font-size:18px;font-weight:400;color:#424242;transform:translateX(-50%) scaleX(0.8889);transform-origin:50% 0;">6</div>
<div class="t" style="left:345.85px;top:632.06px;font-size:18px;font-weight:400;color:#424242;transform:translateX(-50%) scaleX(0.9750);transform-origin:50% 0;"><i class="o"></i>830</div>
<div class="t" style="left:445.55px;top:632.06px;font-size:18px;font-weight:400;color:#424242;transform:translateX(-50%) scaleX(0.9050);transform-origin:50% 0;">46</div>
<div class="t" style="left:545.15px;top:632.06px;font-size:18px;font-weight:400;color:#424242;transform:translateX(-50%) scaleX(0.9094);transform-origin:50% 0;">0,<i class="o"></i>3</div>
<div class="t" style="left:644.65px;top:632.06px;font-size:18px;font-weight:400;color:#424242;transform:translateX(-50%) scaleX(0.9615);transform-origin:50% 0;">7<i class="o"></i>0</div>
<div class="t" style="left:744.20px;top:632.06px;font-size:18px;font-weight:400;color:#424242;transform:translateX(-50%) scaleX(0.9050);transform-origin:50% 0;">43</div>
<div class="t" style="left:846.52px;top:632.06px;font-size:18px;font-weight:400;color:#424242;transform:translateX(-50%) scaleX(0.9313);transform-origin:50% 0;">3<i class="o"></i></div>
<div class="t" style="left:948.88px;top:632.06px;font-size:18px;font-weight:400;color:#424242;transform:translateX(-50%) scaleX(0.9050);transform-origin:50% 0;">44</div>
<div class="t" style="left:246.25px;top:661.16px;font-size:18px;font-weight:400;color:#424242;transform:translateX(-50%) scaleX(0.8000);transform-origin:50% 0;">4</div>
<div class="t" style="left:345.85px;top:661.16px;font-size:18px;font-weight:400;color:#424242;transform:translateX(-50%) scaleX(0.9750);transform-origin:50% 0;"><i class="o"></i>500</div>
<div class="t" style="left:445.55px;top:661.16px;font-size:18px;font-weight:400;color:#424242;transform:translateX(-50%) scaleX(0.9526);transform-origin:50% 0;">28</div>
<div class="t" style="left:545.15px;top:661.16px;font-size:18px;font-weight:400;color:#424242;transform:translateX(-50%) scaleX(0.9500);transform-origin:50% 0;">0,07</div>
<div class="t" style="left:644.65px;top:661.16px;font-size:18px;font-weight:400;color:#424242;transform:translateX(-50%) scaleX(0.9400);transform-origin:50% 0;">580</div>
<div class="t" style="left:744.20px;top:661.16px;font-size:18px;font-weight:400;color:#424242;transform:translateX(-50%) scaleX(0.9526);transform-origin:50% 0;">37</div>
<div class="t" style="left:846.52px;top:661.16px;font-size:18px;font-weight:400;color:#424242;transform:translateX(-50%) scaleX(0.9526);transform-origin:50% 0;">25</div>
<div class="t" style="left:948.88px;top:661.16px;font-size:18px;font-weight:400;color:#424242;transform:translateX(-50%) scaleX(0.9050);transform-origin:50% 0;">38</div>
<div class="t" style="left:1041.35px;top:618.91px;font-size:18px;font-weight:400;color:#424242;transform:translateX(-50%) scaleX(0.9250);transform-origin:50% 0;">4,9</div>
<div class="t" style="left:1126.00px;top:618.91px;font-size:18px;font-weight:400;color:#424242;transform:translateX(-50%) scaleX(0.9750);transform-origin:50% 0;">20<i class="o"></i>8</div>
<div class="t b" style="left:4.60px;top:719.41px;font-size:18px;font-weight:400;-webkit-text-stroke:0.8px #1c1f2b;letter-spacing:1.5px;color:#1c1f2b;transform:scaleX(0.8607);transform-origin:0 0;">TD-<i class="o"></i>300/250</div>
<div class="t" style="left:4.90px;top:744.41px;font-size:18px;font-weight:400;-webkit-text-stroke:0.8px #1c1f2b;letter-spacing:1.5px;color:#1c1f2b;transform:scaleX(0.7602);transform-origin:0 0;">ECOWATT</div>
<div class="t" style="left:246.25px;top:689.66px;font-size:18px;font-weight:400;color:#424242;transform:translateX(-50%) scaleX(0.8765);transform-origin:50% 0;"><i class="o"></i>0</div>
<div class="t" style="left:345.85px;top:689.66px;font-size:18px;font-weight:400;color:#424242;transform:translateX(-50%) scaleX(0.9575);transform-origin:50% 0;">2590</div>
<div class="t" style="left:445.55px;top:689.66px;font-size:18px;font-weight:400;color:#424242;transform:translateX(-50%) scaleX(0.9259);transform-origin:50% 0;"><i class="o"></i>57</div>
<div class="t" style="left:545.15px;top:689.66px;font-size:18px;font-weight:400;color:#424242;transform:translateX(-50%) scaleX(0.9250);transform-origin:50% 0;">0,7</div>
<div class="t" style="left:644.65px;top:689.66px;font-size:18px;font-weight:400;color:#424242;transform:translateX(-50%) scaleX(0.9486);transform-origin:50% 0;"><i class="o"></i>250</div>
<div class="t" style="left:744.20px;top:689.66px;font-size:18px;font-weight:400;color:#424242;transform:translateX(-50%) scaleX(0.9526);transform-origin:50% 0;">59</div>
<div class="t" style="left:846.52px;top:689.66px;font-size:18px;font-weight:400;color:#424242;transform:translateX(-50%) scaleX(0.9050);transform-origin:50% 0;">47</div>
<div class="t" style="left:948.88px;top:689.66px;font-size:18px;font-weight:400;color:#424242;transform:translateX(-50%) scaleX(0.9050);transform-origin:50% 0;">65</div>
<div class="t" style="left:246.25px;top:718.06px;font-size:18px;font-weight:400;color:#424242;transform:translateX(-50%) scaleX(0.8000);transform-origin:50% 0;">8</div>
<div class="t" style="left:345.85px;top:718.06px;font-size:18px;font-weight:400;color:#424242;transform:translateX(-50%) scaleX(0.9382);transform-origin:50% 0;">2<i class="o"></i><i class="o"></i>0</div>
<div class="t" style="left:445.55px;top:718.06px;font-size:18px;font-weight:400;color:#424242;transform:translateX(-50%) scaleX(0.9526);transform-origin:50% 0;">93</div>
<div class="t" style="left:545.15px;top:718.06px;font-size:18px;font-weight:400;color:#424242;transform:translateX(-50%) scaleX(0.8880);transform-origin:50% 0;">0,4</div>
<div class="t" style="left:644.65px;top:718.06px;font-size:18px;font-weight:400;color:#424242;transform:translateX(-50%) scaleX(0.9400);transform-origin:50% 0;">990</div>
<div class="t" style="left:744.20px;top:718.06px;font-size:18px;font-weight:400;color:#424242;transform:translateX(-50%) scaleX(0.9526);transform-origin:50% 0;">54</div>
<div class="t" style="left:846.52px;top:718.06px;font-size:18px;font-weight:400;color:#424242;transform:translateX(-50%) scaleX(0.9050);transform-origin:50% 0;">42</div>
<div class="t" style="left:948.88px;top:718.06px;font-size:18px;font-weight:400;color:#424242;transform:translateX(-50%) scaleX(0.9050);transform-origin:50% 0;">60</div>
<div class="t" style="left:246.25px;top:746.96px;font-size:18px;font-weight:400;color:#424242;transform:translateX(-50%) scaleX(0.8889);transform-origin:50% 0;">6</div>
<div class="t" style="left:345.85px;top:746.96px;font-size:18px;font-weight:400;color:#424242;transform:translateX(-50%) scaleX(0.9750);transform-origin:50% 0;"><i class="o"></i>680</div>
<div class="t" style="left:445.55px;top:746.96px;font-size:18px;font-weight:400;color:#424242;transform:translateX(-50%) scaleX(0.9050);transform-origin:50% 0;">54</div>
<div class="t" style="left:545.15px;top:746.96px;font-size:18px;font-weight:400;color:#424242;transform:translateX(-50%) scaleX(0.8880);transform-origin:50% 0;">0,3</div>
<div class="t" style="left:644.65px;top:746.96px;font-size:18px;font-weight:400;color:#424242;transform:translateX(-50%) scaleX(0.9400);transform-origin:50% 0;">800</div>
<div class="t" style="left:744.20px;top:746.96px;font-size:18px;font-weight:400;color:#424242;transform:translateX(-50%) scaleX(0.9050);transform-origin:50% 0;">48</div>
<div class="t" style="left:846.52px;top:746.96px;font-size:18px;font-weight:400;color:#424242;transform:translateX(-50%) scaleX(0.9526);transform-origin:50% 0;">37</div>
<div class="t" style="left:948.88px;top:746.96px;font-size:18px;font-weight:400;color:#424242;transform:translateX(-50%) scaleX(0.9526);transform-origin:50% 0;">52</div>
<div class="t" style="left:246.25px;top:775.66px;font-size:18px;font-weight:400;color:#424242;transform:translateX(-50%) scaleX(0.8000);transform-origin:50% 0;">4</div>
<div class="t" style="left:345.85px;top:775.66px;font-size:18px;font-weight:400;color:#424242;transform:translateX(-50%) scaleX(0.9667);transform-origin:50% 0;"><i class="o"></i>2<i class="o"></i>0</div>
<div class="t" style="left:445.55px;top:775.66px;font-size:18px;font-weight:400;color:#424242;transform:translateX(-50%) scaleX(0.9526);transform-origin:50% 0;">29</div>
<div class="t" style="left:545.15px;top:775.66px;font-size:18px;font-weight:400;color:#424242;transform:translateX(-50%) scaleX(0.9250);transform-origin:50% 0;">0,2</div>
<div class="t" style="left:644.65px;top:775.66px;font-size:18px;font-weight:400;color:#424242;transform:translateX(-50%) scaleX(0.9400);transform-origin:50% 0;">580</div>
<div class="t" style="left:744.20px;top:775.66px;font-size:18px;font-weight:400;color:#424242;transform:translateX(-50%) scaleX(0.9050);transform-origin:50% 0;">40</div>
<div class="t" style="left:846.52px;top:775.66px;font-size:18px;font-weight:400;color:#424242;transform:translateX(-50%) scaleX(0.9526);transform-origin:50% 0;">33</div>
<div class="t" style="left:948.88px;top:775.66px;font-size:18px;font-weight:400;color:#424242;transform:translateX(-50%) scaleX(0.9050);transform-origin:50% 0;">44</div>
<div class="t" style="left:1041.35px;top:732.91px;font-size:18px;font-weight:400;color:#424242;transform:translateX(-50%) scaleX(0.8880);transform-origin:50% 0;">9,5</div>
<div class="t" style="left:1126.00px;top:732.91px;font-size:18px;font-weight:400;color:#424242;transform:translateX(-50%) scaleX(0.9750);transform-origin:50% 0;">20<i class="o"></i>8</div>
<div class="t b" style="left:4.60px;top:833.86px;font-size:18px;font-weight:400;-webkit-text-stroke:0.8px #1c1f2b;letter-spacing:1.5px;color:#1c1f2b;transform:scaleX(0.8624);transform-origin:0 0;">TD-2000/3<i class="o"></i>5</div>
<div class="t" style="left:4.90px;top:858.86px;font-size:18px;font-weight:400;-webkit-text-stroke:0.8px #1c1f2b;letter-spacing:1.5px;color:#1c1f2b;transform:scaleX(0.7602);transform-origin:0 0;">ECOWATT</div>
<div class="t" style="left:246.25px;top:803.96px;font-size:18px;font-weight:400;color:#424242;transform:translateX(-50%) scaleX(0.8765);transform-origin:50% 0;"><i class="o"></i>0</div>
<div class="t" style="left:345.85px;top:803.96px;font-size:18px;font-weight:400;color:#424242;transform:translateX(-50%) scaleX(0.9575);transform-origin:50% 0;">2580</div>
<div class="t" style="left:445.55px;top:803.96px;font-size:18px;font-weight:400;color:#424242;transform:translateX(-50%) scaleX(0.9724);transform-origin:50% 0;">262</div>
<div class="t" style="left:545.15px;top:803.96px;font-size:18px;font-weight:400;color:#424242;transform:translateX(-50%) scaleX(0.9294);transform-origin:50% 0;"><i class="o"></i>,<i class="o"></i></div>
<div class="t" style="left:644.65px;top:803.96px;font-size:18px;font-weight:400;color:#424242;transform:translateX(-50%) scaleX(0.9486);transform-origin:50% 0;"><i class="o"></i>740</div>
<div class="t" style="left:744.20px;top:803.96px;font-size:18px;font-weight:400;color:#424242;transform:translateX(-50%) scaleX(0.9526);transform-origin:50% 0;">60</div>
<div class="t" style="left:846.52px;top:803.96px;font-size:18px;font-weight:400;color:#424242;transform:translateX(-50%) scaleX(0.9526);transform-origin:50% 0;">50</div>
<div class="t" style="left:948.88px;top:803.96px;font-size:18px;font-weight:400;color:#424242;transform:translateX(-50%) scaleX(0.9050);transform-origin:50% 0;">64</div>
<div class="t" style="left:246.25px;top:832.76px;font-size:18px;font-weight:400;color:#424242;transform:translateX(-50%) scaleX(0.8000);transform-origin:50% 0;">8</div>
<div class="t" style="left:345.85px;top:832.76px;font-size:18px;font-weight:400;color:#424242;transform:translateX(-50%) scaleX(0.9750);transform-origin:50% 0;">2<i class="o"></i>30</div>
<div class="t" style="left:445.55px;top:832.76px;font-size:18px;font-weight:400;color:#424242;transform:translateX(-50%) scaleX(0.9259);transform-origin:50% 0;"><i class="o"></i>54</div>
<div class="t" style="left:545.15px;top:832.76px;font-size:18px;font-weight:400;color:#424242;transform:translateX(-50%) scaleX(0.9250);transform-origin:50% 0;">0,7</div>
<div class="t" style="left:644.65px;top:832.76px;font-size:18px;font-weight:400;color:#424242;transform:translateX(-50%) scaleX(0.9667);transform-origin:50% 0;"><i class="o"></i>4<i class="o"></i>0</div>
<div class="t" style="left:744.20px;top:832.76px;font-size:18px;font-weight:400;color:#424242;transform:translateX(-50%) scaleX(0.9526);transform-origin:50% 0;">56</div>
<div class="t" style="left:846.52px;top:832.76px;font-size:18px;font-weight:400;color:#424242;transform:translateX(-50%) scaleX(0.9050);transform-origin:50% 0;">46</div>
<div class="t" style="left:948.88px;top:832.76px;font-size:18px;font-weight:400;color:#424242;transform:translateX(-50%) scaleX(0.9050);transform-origin:50% 0;">50</div>
<div class="t" style="left:246.25px;top:861.46px;font-size:18px;font-weight:400;color:#424242;transform:translateX(-50%) scaleX(0.8889);transform-origin:50% 0;">6</div>
<div class="t" style="left:345.85px;top:861.46px;font-size:18px;font-weight:400;color:#424242;transform:translateX(-50%) scaleX(0.9750);transform-origin:50% 0;"><i class="o"></i>690</div>
<div class="t" style="left:445.55px;top:861.46px;font-size:18px;font-weight:400;color:#424242;transform:translateX(-50%) scaleX(0.9526);transform-origin:50% 0;">85</div>
<div class="t" style="left:545.15px;top:861.46px;font-size:18px;font-weight:400;color:#424242;transform:translateX(-50%) scaleX(0.8880);transform-origin:50% 0;">0,4</div>
<div class="t" style="left:644.65px;top:861.46px;font-size:18px;font-weight:400;color:#424242;transform:translateX(-50%) scaleX(0.9258);transform-origin:50% 0;"><i class="o"></i><i class="o"></i><i class="o"></i>0</div>
<div class="t" style="left:744.20px;top:861.46px;font-size:18px;font-weight:400;color:#424242;transform:translateX(-50%) scaleX(0.9526);transform-origin:50% 0;">50</div>
<div class="t" style="left:846.52px;top:861.46px;font-size:18px;font-weight:400;color:#424242;transform:translateX(-50%) scaleX(0.9050);transform-origin:50% 0;">40</div>
<div class="t" style="left:948.88px;top:861.46px;font-size:18px;font-weight:400;color:#424242;transform:translateX(-50%) scaleX(0.9050);transform-origin:50% 0;">54</div>
<div class="t" style="left:246.25px;top:890.06px;font-size:18px;font-weight:400;color:#424242;transform:translateX(-50%) scaleX(0.8000);transform-origin:50% 0;">4</div>
<div class="t" style="left:345.85px;top:890.06px;font-size:18px;font-weight:400;color:#424242;transform:translateX(-50%) scaleX(0.9750);transform-origin:50% 0;"><i class="o"></i>230</div>
<div class="t" style="left:445.55px;top:890.06px;font-size:18px;font-weight:400;color:#424242;transform:translateX(-50%) scaleX(0.9313);transform-origin:50% 0;">4<i class="o"></i></div>
<div class="t" style="left:545.15px;top:890.06px;font-size:18px;font-weight:400;color:#424242;transform:translateX(-50%) scaleX(0.9250);transform-origin:50% 0;">0,2</div>
<div class="t" style="left:644.65px;top:890.06px;font-size:18px;font-weight:400;color:#424242;transform:translateX(-50%) scaleX(0.9259);transform-origin:50% 0;">8<i class="o"></i>0</div>
<div class="t" style="left:744.20px;top:890.06px;font-size:18px;font-weight:400;color:#424242;transform:translateX(-50%) scaleX(0.9050);transform-origin:50% 0;">45</div>
<div class="t" style="left:846.52px;top:890.06px;font-size:18px;font-weight:400;color:#424242;transform:translateX(-50%) scaleX(0.9526);transform-origin:50% 0;">35</div>
<div class="t" style="left:948.88px;top:890.06px;font-size:18px;font-weight:400;color:#424242;transform:translateX(-50%) scaleX(0.9050);transform-origin:50% 0;">48</div>
<div class="t" style="left:1041.35px;top:847.36px;font-size:18px;font-weight:400;color:#424242;transform:translateX(-50%) scaleX(0.8765);transform-origin:50% 0;"><i class="o"></i>4</div>
<div class="t" style="left:1126.00px;top:847.36px;font-size:18px;font-weight:400;color:#424242;transform:translateX(-50%) scaleX(0.9750);transform-origin:50% 0;">20<i class="o"></i>8</div>
</body></html>
